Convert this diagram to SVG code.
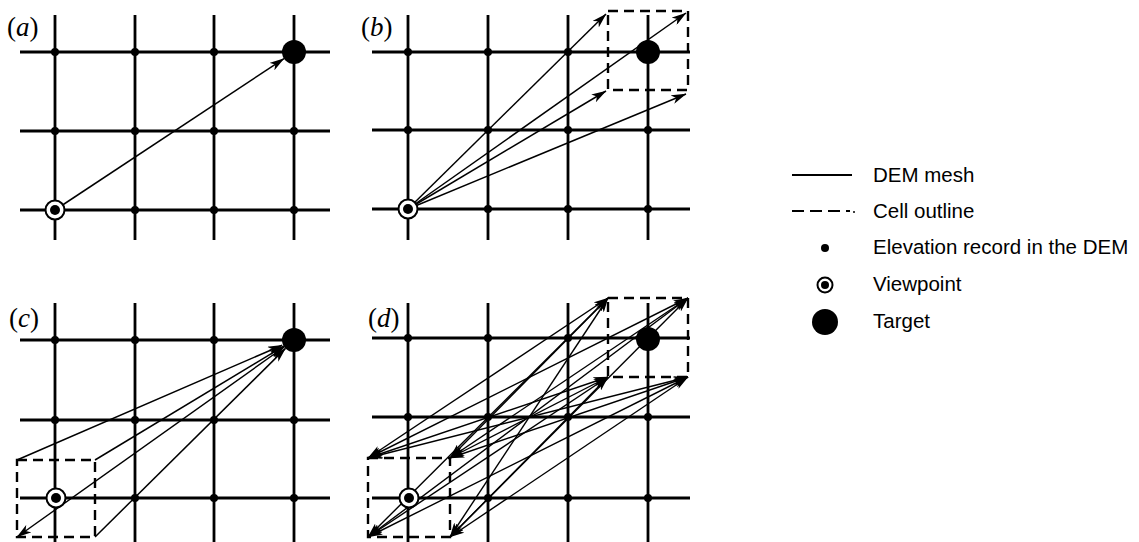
<svg xmlns="http://www.w3.org/2000/svg" width="1139" height="542" viewBox="0 0 1139 542">
<style>
.mesh{stroke:#000;stroke-width:2.8;fill:none}
.cell{stroke:#000;stroke-width:2.4;fill:none;stroke-dasharray:10 6}
.ray{stroke:#000;stroke-width:1.5;fill:none;marker-end:url(#ah)}
.ray2{stroke:#000;stroke-width:1.4;fill:none;marker-end:url(#ah);marker-start:url(#ah)}
.node{fill:#000}
.vpring{fill:#fff;stroke:#000;stroke-width:2}
.lbl{font-family:"Liberation Serif",serif;font-size:27px;fill:#000}
.leg{font-family:"Liberation Sans",Arial,sans-serif;font-size:20.5px;fill:#000}
</style>
<defs>
<marker id="ah" viewBox="0 0 15 9" refX="14.5" refY="4.5" markerWidth="15" markerHeight="9" markerUnits="userSpaceOnUse" orient="auto-start-reverse">
<path d="M0,0 L15,4.5 L0,9 L4,4.5 z" fill="#000"/>
</marker>
</defs>

<!-- Panel a -->
<g id="panel-a">
<text class="lbl" x="7" y="36">(<tspan font-style="italic">a</tspan>)</text>
<g id="mesh-a">
<path class="mesh" d="M20,52H330M20,131H330M20,210H330M55,15V240M135,15V240M214,15V240M294,15V240"/>
</g>
<g id="records-a" class="node">
<circle cx="55" cy="52" r="4"/><circle cx="135" cy="52" r="4"/><circle cx="214" cy="52" r="4"/>
<circle cx="55" cy="131" r="4"/><circle cx="135" cy="131" r="4"/><circle cx="214" cy="131" r="4"/><circle cx="294" cy="131" r="4"/>
<circle cx="135" cy="210" r="4"/><circle cx="214" cy="210" r="4"/><circle cx="294" cy="210" r="4"/>
</g>
<g id="connectors-a">
<line class="ray" x1="55" y1="210" x2="284" y2="58.6"/>
</g>
<g id="viewpoint-a"><circle class="vpring" cx="55" cy="210" r="9.5"/><circle cx="55" cy="210" r="5"/></g>
<g id="target-a"><circle cx="294" cy="52" r="12"/></g>
</g>

<!-- Panel b -->
<g id="panel-b">
<text class="lbl" x="361" y="36">(<tspan font-style="italic">b</tspan>)</text>
<g id="mesh-b">
<path class="mesh" d="M372,52H690M372,130H690M372,209H690M408,15V240M488,15V240M568,15V240M648,15V240"/>
</g>
<g id="cell-b"><rect class="cell" x="608" y="11" width="80" height="79"/></g>
<g id="records-b" class="node">
<circle cx="408" cy="52" r="4"/><circle cx="488" cy="52" r="4"/><circle cx="568" cy="52" r="4"/>
<circle cx="408" cy="130" r="4"/><circle cx="488" cy="130" r="4"/><circle cx="568" cy="130" r="4"/><circle cx="648" cy="130" r="4"/>
<circle cx="488" cy="209" r="4"/><circle cx="568" cy="209" r="4"/><circle cx="648" cy="209" r="4"/>
</g>
<g id="connectors-b">
<line class="ray" x1="408" y1="209" x2="606" y2="14"/>
<line class="ray" x1="408" y1="209" x2="686" y2="13"/>
<line class="ray" x1="408" y1="209" x2="606" y2="91"/>
<line class="ray" x1="408" y1="209" x2="686" y2="94"/>
</g>
<g id="viewpoint-b"><circle class="vpring" cx="408" cy="209" r="9.5"/><circle cx="408" cy="209" r="5"/></g>
<g id="target-b"><circle cx="648" cy="52" r="12"/></g>
</g>

<!-- Panel c -->
<g id="panel-c">
<text class="lbl" x="9" y="327">(<tspan font-style="italic">c</tspan>)</text>
<g id="mesh-c">
<path class="mesh" d="M20,340H330M20,420H330M20,498H330M55,303V542M135,303V542M214,303V542M294,303V542"/>
</g>
<g id="cell-c"><rect class="cell" x="17" y="460" width="78" height="77"/></g>
<g id="records-c" class="node">
<circle cx="55" cy="340" r="4"/><circle cx="135" cy="340" r="4"/><circle cx="214" cy="340" r="4"/>
<circle cx="55" cy="420" r="4"/><circle cx="135" cy="420" r="4"/><circle cx="214" cy="420" r="4"/><circle cx="294" cy="420" r="4"/>
<circle cx="135" cy="498" r="4"/><circle cx="214" cy="498" r="4"/><circle cx="294" cy="498" r="4"/>
</g>
<g id="connectors-c">
<line class="ray" x1="17" y1="460" x2="282.1" y2="345.2"/>
<line class="ray" x1="95" y1="460" x2="283.7" y2="346.2"/>
<line class="ray2" x1="17" y1="537" x2="284.2" y2="347"/>
<line class="ray" x1="95" y1="537" x2="285.5" y2="348.4"/>
</g>
<g id="viewpoint-c"><circle class="vpring" cx="56" cy="498" r="9.5"/><circle cx="56" cy="498" r="5"/></g>
<g id="target-c"><circle cx="294" cy="340" r="12"/></g>
</g>

<!-- Panel d -->
<g id="panel-d">
<text class="lbl" x="368" y="327">(<tspan font-style="italic">d</tspan>)</text>
<g id="mesh-d">
<path class="mesh" d="M372,338H690M372,417H690M372,498H690M408,303V542M488,303V542M568,303V542M648,303V542"/>
</g>
<g id="cells-d">
<rect class="cell" x="608" y="298" width="80" height="79"/>
<rect class="cell" x="368" y="458" width="82" height="79"/>
</g>
<g id="records-d" class="node">
<circle cx="408" cy="338" r="4"/><circle cx="488" cy="338" r="4"/><circle cx="568" cy="338" r="4"/>
<circle cx="408" cy="417" r="4"/><circle cx="488" cy="417" r="4"/><circle cx="568" cy="417" r="4"/><circle cx="648" cy="417" r="4"/>
<circle cx="488" cy="498" r="4"/><circle cx="568" cy="498" r="4"/><circle cx="648" cy="498" r="4"/>
</g>
<g id="connectors-d">
<line class="ray2" x1="368" y1="458" x2="608" y2="298"/>
<line class="ray2" x1="368" y1="458" x2="688" y2="298"/>
<line class="ray2" x1="368" y1="458" x2="608" y2="377"/>
<line class="ray2" x1="368" y1="458" x2="688" y2="377"/>
<line class="ray2" x1="450" y1="458" x2="608" y2="298"/>
<line class="ray2" x1="450" y1="458" x2="688" y2="298"/>
<line class="ray2" x1="450" y1="458" x2="608" y2="377"/>
<line class="ray2" x1="450" y1="458" x2="688" y2="377"/>
<line class="ray2" x1="368" y1="537" x2="608" y2="298"/>
<line class="ray2" x1="368" y1="537" x2="688" y2="298"/>
<line class="ray2" x1="368" y1="537" x2="608" y2="377"/>
<line class="ray2" x1="368" y1="537" x2="688" y2="377"/>
<line class="ray2" x1="450" y1="537" x2="608" y2="298"/>
<line class="ray2" x1="450" y1="537" x2="688" y2="298"/>
<line class="ray2" x1="450" y1="537" x2="608" y2="377"/>
<line class="ray2" x1="450" y1="537" x2="688" y2="377"/>
</g>
<g id="viewpoint-d"><circle class="vpring" cx="409" cy="498" r="9.5"/><circle cx="409" cy="498" r="5"/></g>
<g id="target-d"><circle cx="648" cy="339" r="12"/></g>
</g>

<!-- Legend -->
<g id="legend">
<g id="legend-mesh"><line x1="792" y1="175" x2="852" y2="175" stroke="#000" stroke-width="2.2"/><text class="leg" x="873" y="182">DEM mesh</text></g>
<g id="legend-cell"><line x1="792" y1="211" x2="850" y2="211" stroke="#000" stroke-width="2.2" stroke-dasharray="12 6"/><circle cx="854" cy="212" r="1"/><text class="leg" x="873" y="218">Cell outline</text></g>
<g id="legend-record"><circle cx="825" cy="248" r="4"/><text class="leg" x="873" y="254">Elevation record in the DEM</text></g>
<g id="legend-viewpoint"><circle class="vpring" cx="825" cy="285" r="7.5"/><circle cx="825" cy="285" r="4"/><text class="leg" x="873" y="291">Viewpoint</text></g>
<g id="legend-target"><circle cx="825" cy="322" r="13"/><text class="leg" x="873" y="328">Target</text></g>
</g>
</svg>
